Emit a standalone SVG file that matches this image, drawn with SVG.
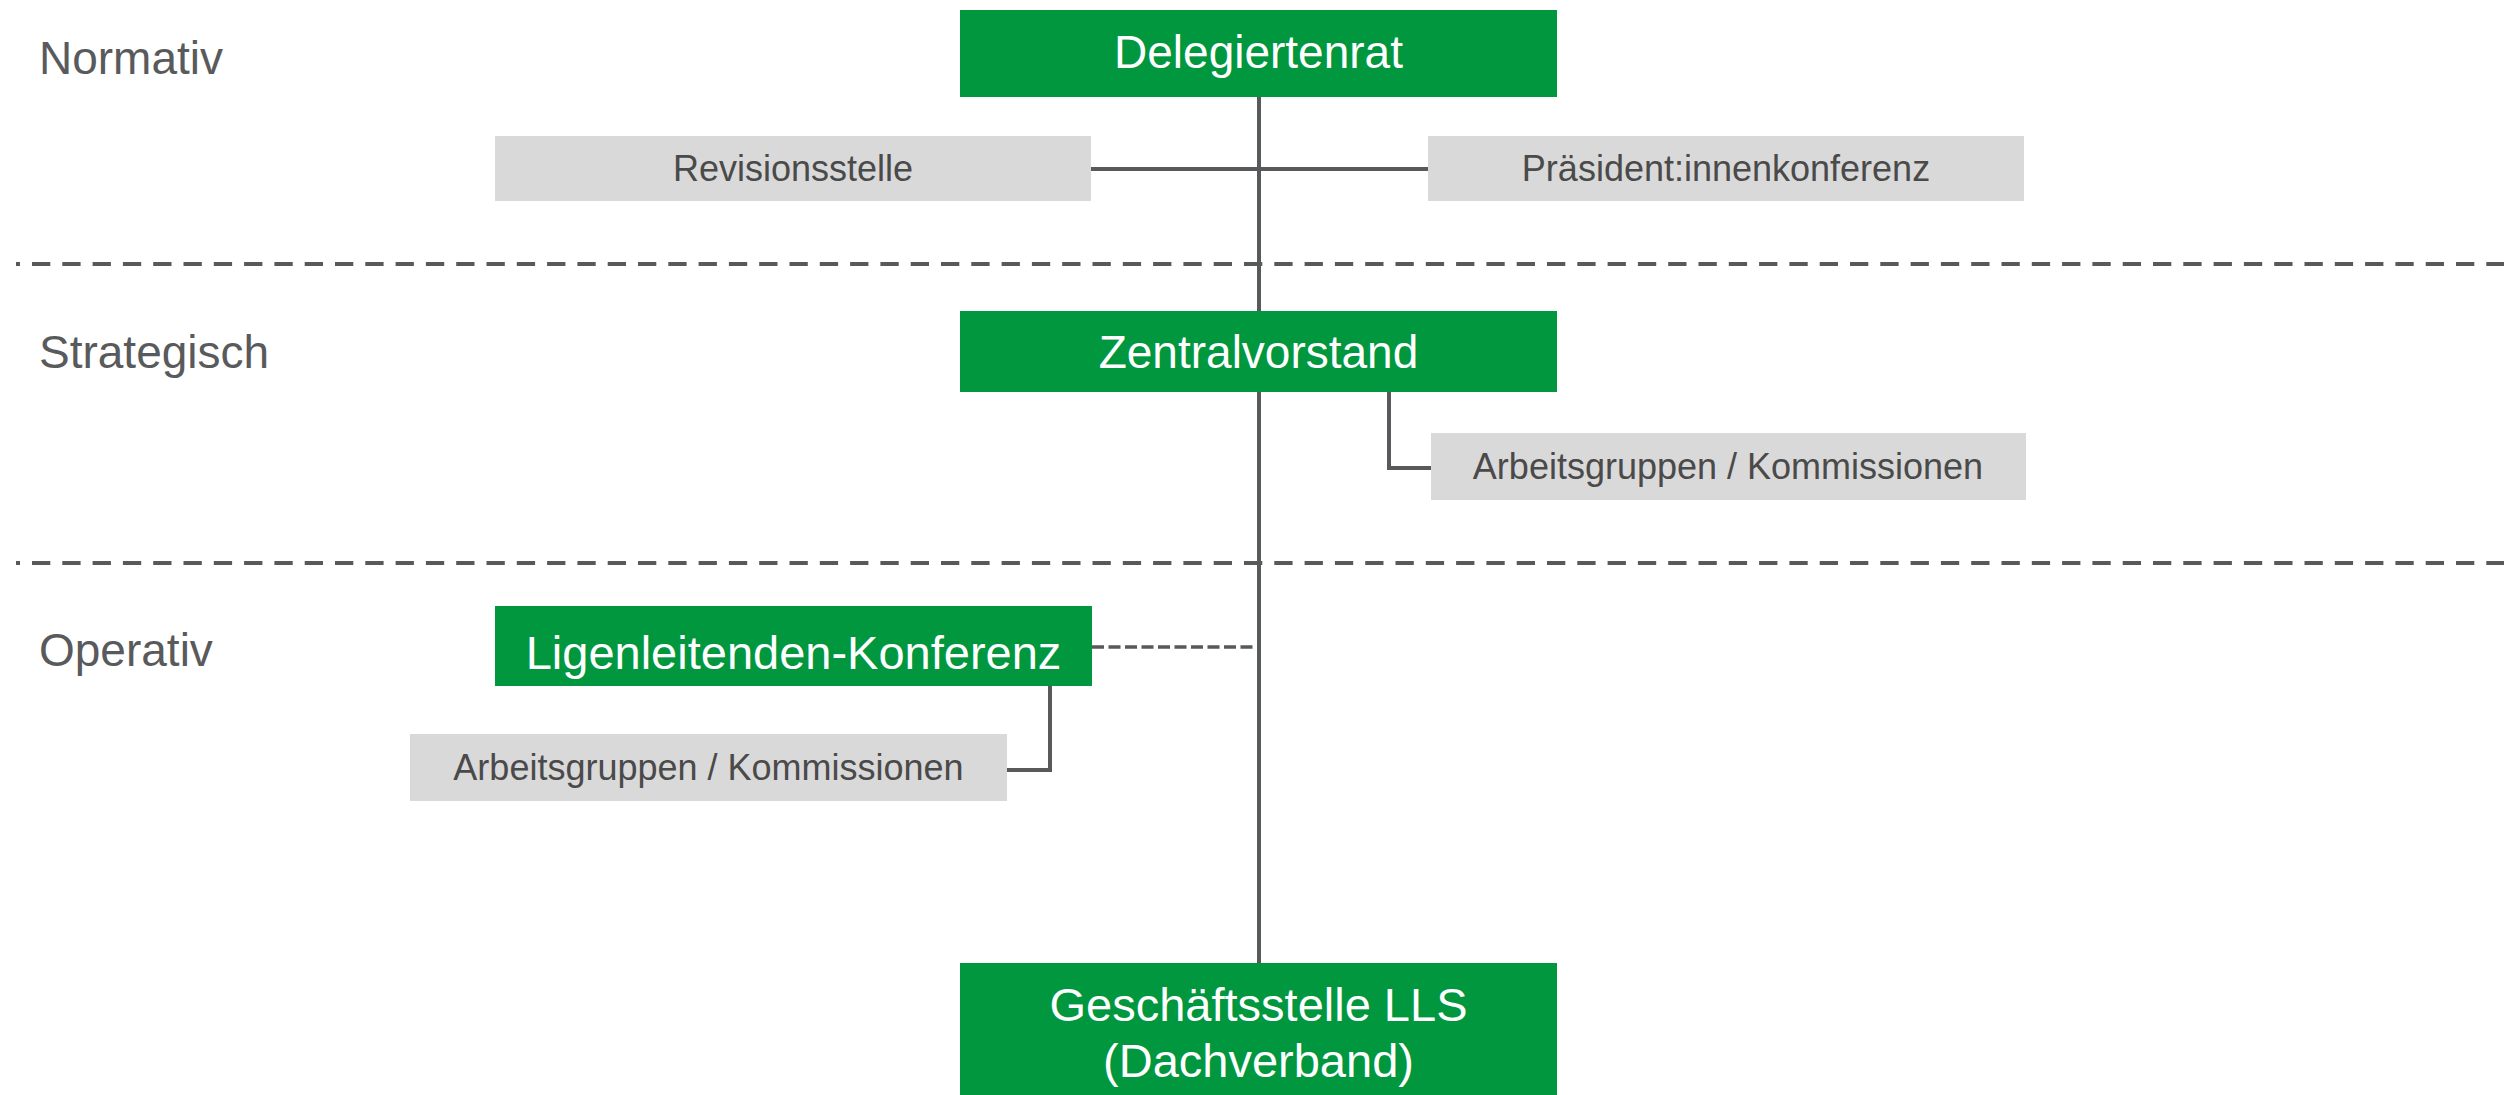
<svg xmlns="http://www.w3.org/2000/svg" width="2514" height="1095" viewBox="0 0 2514 1095">
<style>
.green{fill:#00973F}
.gray{fill:#D9D9D9}
.wt{font-family:"Liberation Sans",Arial,sans-serif;font-size:46px;fill:#FFFFFF;text-anchor:middle}
.gt{font-family:"Liberation Sans",Arial,sans-serif;font-size:36px;fill:#4A4A4A;text-anchor:middle}
.lvl{font-family:"Liberation Sans",Arial,sans-serif;font-size:46px;fill:#595A5C}
.ln{stroke:#58595B;stroke-width:4;fill:none}
.sep{stroke:#58595B;stroke-width:4;fill:none;stroke-dasharray:18.3 12;stroke-dashoffset:14.3}
.dash{stroke:#58595B;stroke-width:3.5;fill:none;stroke-dasharray:12 4.5}
</style>
<g id="levels">
<text class="lvl" x="39" y="74">Normativ</text>
<text class="lvl" x="39" y="368">Strategisch</text>
<text class="lvl" x="39" y="666">Operativ</text>
<line class="sep" x1="16" y1="264" x2="2504" y2="264"/>
<line class="sep" x1="16" y1="563" x2="2504" y2="563"/>
</g>
<g id="connectors">
<line class="ln" x1="1259" y1="97" x2="1259" y2="963"/>
<line class="ln" x1="1091" y1="169" x2="1428" y2="169"/>
<polyline class="ln" points="1389,392 1389,468 1432,468"/>
<line class="dash" x1="1092" y1="647" x2="1258" y2="647"/>
<polyline class="ln" points="1050,686 1050,770 1007,770"/>
</g>
<g id="delegiertenrat">
<rect class="green" x="960" y="10" width="597" height="87"/>
<text class="wt" x="1258.5" y="68">Delegiertenrat</text>
</g>
<g id="revisionsstelle">
<rect class="gray" x="495" y="136" width="596" height="65"/>
<text class="gt" x="793" y="181">Revisionsstelle</text>
</g>
<g id="praesidentinnenkonferenz">
<rect class="gray" x="1428" y="136" width="596" height="65"/>
<text class="gt" x="1726" y="181">Präsident:innenkonferenz</text>
</g>
<g id="zentralvorstand">
<rect class="green" x="960" y="311" width="597" height="81"/>
<text class="wt" x="1258.5" y="368">Zentralvorstand</text>
</g>
<g id="ag-zv">
<rect class="gray" x="1431" y="433" width="595" height="67"/>
<text class="gt" x="1728" y="479">Arbeitsgruppen / Kommissionen</text>
</g>
<g id="ligenleitenden-konferenz">
<rect class="green" x="495" y="606" width="597" height="80"/>
<text class="wt" x="793.5" y="669" style="font-size:47px">Ligenleitenden-Konferenz</text>
</g>
<g id="ag-llk">
<rect class="gray" x="410" y="734" width="597" height="67"/>
<text class="gt" x="708.5" y="780">Arbeitsgruppen / Kommissionen</text>
</g>
<g id="geschaeftsstelle">
<rect class="green" x="960" y="963" width="597" height="140"/>
<text class="wt" x="1258.5" y="1021" style="font-size:47px">Geschäftsstelle LLS</text>
<text class="wt" x="1258.5" y="1077" style="font-size:47px">(Dachverband)</text>
</g>
</svg>
